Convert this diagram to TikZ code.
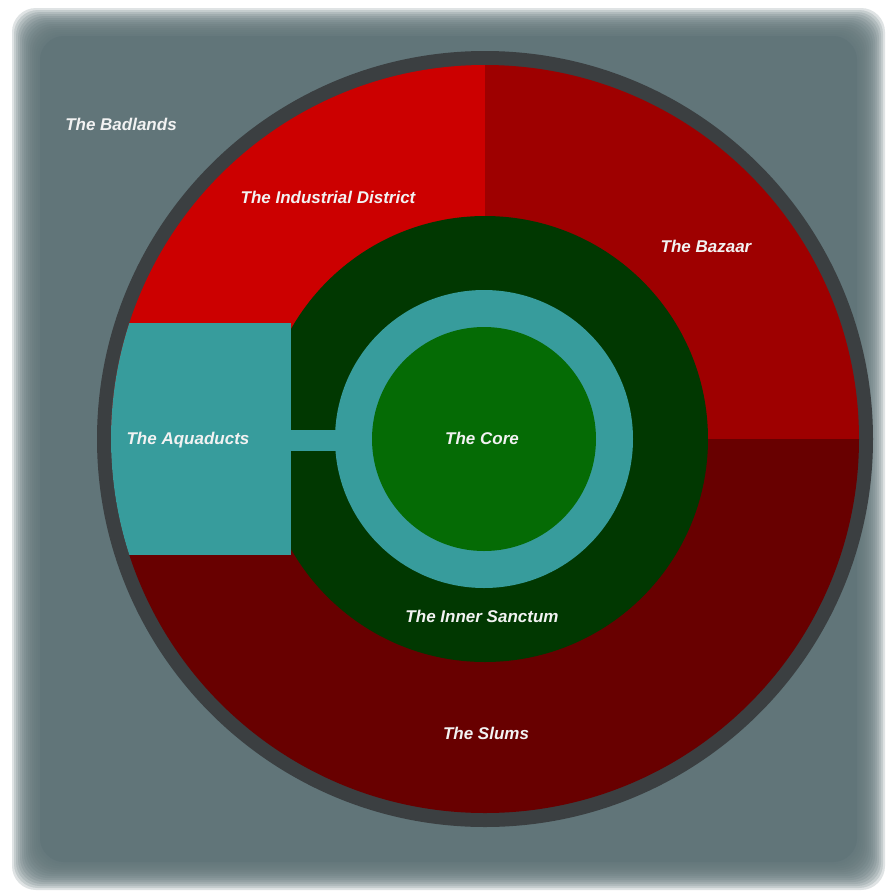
\documentclass[tikz,border=0pt]{standalone}
\usepackage{fontspec}
\setmainfont{Liberation Sans}
\definecolor{bgGray}{HTML}{617579}
\definecolor{rimGray}{HTML}{3B3F41}
\definecolor{indRed}{HTML}{CC0000}
\definecolor{bazRed}{HTML}{9E0000}
\definecolor{slumRed}{HTML}{680000}
\definecolor{sancGreen}{HTML}{013801}
\definecolor{aquaTeal}{HTML}{379C9C}
\definecolor{coreGreen}{HTML}{056B05}
\definecolor{labelWhite}{HTML}{F2F2F2}
\begin{document}
\begin{tikzpicture}[x=1pt,y=-1pt,
  zonelabel/.style={text=labelWhite,font=\fontsize{17}{20}\selectfont\bfseries\itshape,inner sep=0pt},
  panel/.style={fill=bgGray,rounded corners=24pt}]
\useasboundingbox (0,0) rectangle (888,895);
\fill[white] (0,0) rectangle (888,895);
% soft-edged gray panel
\foreach \i in {0,...,13}{
  \path[panel,opacity=0.2] ({12+2*\i},{8+2*\i}) rectangle ({885-2*\i},{890-2*\i});
}
\path[panel] (40,36) rectangle (857,862);
% outer rim
\fill[rimGray] (485,439) circle[radius=388];
\begin{scope}
  \clip (485,439) circle[radius=374];
  \fill[slumRed] (90,439) rectangle (880,830);
  \fill[indRed] (90,50) rectangle (485,439);
  \fill[bazRed] (485,50) rectangle (880,439);
  \fill[sancGreen] (485,439) circle[radius=223];
  \fill[aquaTeal] (90,323) rectangle (291,555);
\end{scope}
\fill[aquaTeal] (290,430) rectangle (350,451);
\fill[aquaTeal] (484,439) circle[radius=149];
\fill[coreGreen] (484,439) circle[radius=112];
% labels
\node[zonelabel] (badlands) at (121,124) {The Badlands};
\node[zonelabel] (industrial) at (328,197) {The Industrial District};
\node[zonelabel] (bazaar) at (706,246) {The Bazaar};
\node[zonelabel] (aquaducts) at (188,440) {The Aquaducts};
\node[zonelabel] (core) at (482,438) {The Core};
\node[zonelabel] (sanctum) at (482,616) {The Inner Sanctum};
\node[zonelabel] (slums) at (486,733) {The Slums};
\end{tikzpicture}
\end{document}
